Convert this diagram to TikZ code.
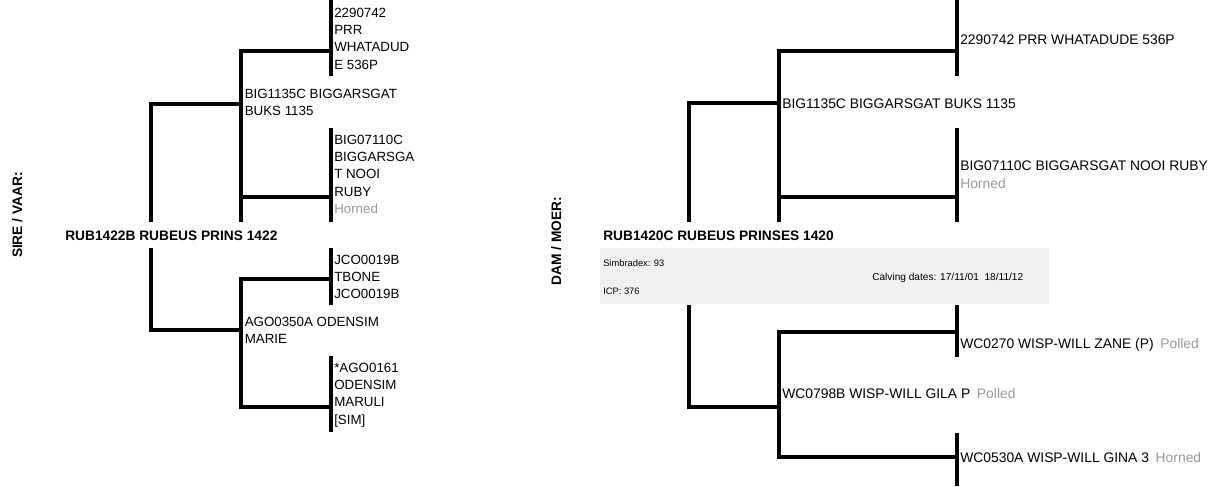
\documentclass[tikz,border=0pt]{standalone}
\usepackage{fontspec}
\setmainfont{Liberation Sans}
\definecolor{tagc}{HTML}{999999}
\definecolor{boxfill}{HTML}{F0F0F0}
\tikzset{
  ln/.style={line width=3pt, line cap=butt, line join=miter},
  lt/.style={anchor=base west, inner sep=0pt, align=left, font=\fontsize{10}{13.05}\selectfont},
  rt/.style={anchor=base west, inner sep=0pt, align=left, font=\fontsize{10.4}{12.8}\selectfont},
  hd/.style={anchor=base west, inner sep=0pt, font=\fontsize{10.3}{12}\selectfont\bfseries},
  side/.style={anchor=base, rotate=90, inner sep=0pt, font=\fontsize{10.3}{12}\selectfont\bfseries},
  sm/.style={anchor=base west, inner sep=0pt, font=\fontsize{7}{8}\selectfont},
  smc/.style={anchor=base west, inner sep=0pt, font=\fontsize{7.6}{9}\selectfont},
  infobox/.style={fill=boxfill, draw=none, inner sep=0pt, anchor=north west,
    minimum width=336.75pt, minimum height=42pt}
}
\newcommand{\tg}[1]{\textcolor{tagc}{#1}}
\begin{document}
\begin{tikzpicture}[x=0.75pt,y=-0.75pt]
\useasboundingbox (0,0) rectangle (1215,486);

% ---------------- SIRE side ----------------
% (multi-line nodes: base anchor = baseline of the last line)
\node[side] (sireLbl) at (22,215) {SIRE / VAAR:};
\node[hd] (s) at (65,240) {RUB1422B RUBEUS PRINS 1422};
\node[lt] (s1) at (244.5,115.4) {BIG1135C BIGGARSGAT\\BUKS 1135};
\node[lt] (s11) at (334,69.2) {2290742\\PRR\\WHATADUD\\E 536P};
\node[lt] (s12) at (334,213.6) {BIG07110C\\BIGGARSGA\\T NOOI\\RUBY\\\tg{Horned}};
\node[lt] (s2) at (244.5,343.4) {AGO0350A ODENSIM\\MARIE};
\node[lt] (s21) at (334,298.8) {JCO0019B\\TBONE\\JCO0019B};
\node[lt] (s22) at (334,424.2) {*AGO0161\\ODENSIM\\MARULI\\{[SIM]}};

% bracket coordinates (sire)
\coordinate (sa1) at (151,103.5);  \coordinate (sa2) at (151,222);
\coordinate (sa3) at (151,248);    \coordinate (sa4) at (151,330.3);
\coordinate (sb1) at (241,51);     \coordinate (sb2) at (241,222);
\coordinate (sb3) at (241,279.3);  \coordinate (sb4) at (241,406.7);
\coordinate (sbm) at (241,196.7);
\coordinate (sc1) at (331,0);      \coordinate (sc2) at (331,76);
\coordinate (sc3) at (331,128.3);  \coordinate (sc4) at (331,222);
\coordinate (sc5) at (331,248.3);  \coordinate (sc6) at (331,305);
\coordinate (sc7) at (331,356);    \coordinate (sc8) at (331,431.7);

\draw[ln] (sa1 -| sb1) -- (sa1) -- (sa2);
\draw[ln] (sa3) -- (sa4) -- (sa4 -| sb1);
\draw[ln] (sb1 -| sc1) -- (sb1) -- (sb2);
\draw[ln] (sbm) -- (sbm -| sc1);
\draw[ln] (sb3 -| sc1) -- (sb3) -- (sb4) -- (sb4 -| sc1);
\draw[ln] (sc1) -- (sc2);
\draw[ln] (sc3) -- (sc4);
\draw[ln] (sc5) -- (sc6);
\draw[ln] (sc7) -- (sc8);

% ---------------- DAM side ----------------
\node[side] (damLbl) at (561,241) {DAM / MOER:};
\node[hd] (d) at (603,240) {RUB1420C RUBEUS PRINSES 1420};
\node[infobox] (dbox) at (600,248) {};
\node[sm] (simb) at (603,266.5) {Simbradex: 93};
\node[sm] (icp) at (603,294) {ICP: 376};
\node[smc] (calv) at (872,280) {Calving dates: 17/11/01\ \ 18/11/12};
\node[rt] (d1) at (782,108) {BIG1135C BIGGARSGAT BUKS 1135};
\node[rt] (d11) at (960,44) {2290742 PRR WHATADUDE 536P};
\node[rt] (d12) at (960,188) {BIG07110C BIGGARSGAT NOOI RUBY\\\tg{Horned}};
\node[rt] (d2) at (782,398) {WC0798B WISP-WILL GILA P\hspace{5pt}\tg{Polled}};
\node[rt] (d21) at (960,348) {WC0270 WISP-WILL ZANE (P)\hspace{5pt}\tg{Polled}};
\node[rt] (d22) at (960,462) {WC0530A WISP-WILL GINA 3\hspace{5pt}\tg{Horned}};

% bracket coordinates (dam)
\coordinate (da1) at (688.5,103.3); \coordinate (da2) at (688.5,222);
\coordinate (da3) at (688.5,305);   \coordinate (da4) at (688.5,407);
\coordinate (db1) at (779,50.7);    \coordinate (db2) at (779,222);
\coordinate (db3) at (779,331.8);   \coordinate (db4) at (779,457);
\coordinate (dbm) at (779,196.7);
\coordinate (dc1) at (957,0);       \coordinate (dc2) at (957,76);
\coordinate (dc3) at (957,128.3);   \coordinate (dc4) at (957,222);
\coordinate (dc5) at (957,305);     \coordinate (dc6) at (957,356.7);
\coordinate (dc7) at (957,432.7);   \coordinate (dc8) at (957,486);

\draw[ln] (da1 -| db1) -- (da1) -- (da2);
\draw[ln] (da3) -- (da4) -- (da4 -| db1);
\draw[ln] (db1 -| dc1) -- (db1) -- (db2);
\draw[ln] (dbm) -- (dbm -| dc1);
\draw[ln] (db3 -| dc1) -- (db3) -- (db4) -- (db4 -| dc1);
\draw[ln] (dc1) -- (dc2);
\draw[ln] (dc3) -- (dc4);
\draw[ln] (dc5) -- (dc6);
\draw[ln] (dc7) -- (dc8);
\end{tikzpicture}
\end{document}
